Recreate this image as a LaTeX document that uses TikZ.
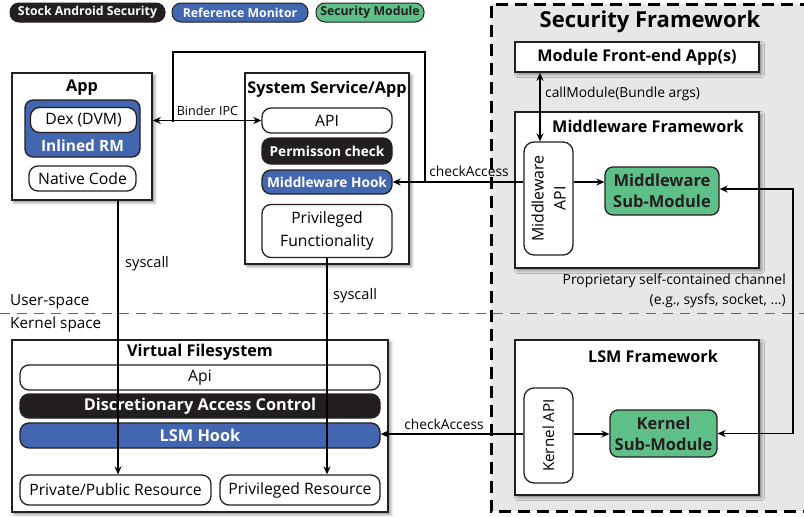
\documentclass[tikz,border=0pt]{standalone}
\usepackage{fontspec}
\setmainfont{Open Sans}
\usetikzlibrary{arrows.meta,shadows.blur,calc}
\definecolor{rmblue}{HTML}{4366B0}
\definecolor{smgreen}{HTML}{5FBF89}
\definecolor{sablack}{HTML}{231F20}
\definecolor{sfgray}{HTML}{E6E7E8}
\tikzset{
 box/.style={draw=sablack, line width=1.6pt, fill=white, inner sep=0pt, blur shadow={shadow xshift=2.5pt, shadow yshift=-2.5pt, shadow blur radius=3pt, shadow opacity=45}},
 pill/.style={draw=sablack, line width=1.3pt, fill=white, rounded corners=9pt, inner sep=0pt, font=\fontsize{15.7}{18}\selectfont},
 blk/.style={pill, fill=sablack, text=white, font=\fontsize{13.7}{16}\selectfont\bfseries},
 blu/.style={pill, fill=rmblue, text=white, font=\fontsize{13.7}{16}\selectfont\bfseries},
 grn/.style={pill, fill=smgreen, text=sablack, font=\fontsize{16.5}{21}\selectfont\bfseries, align=center, rounded corners=8pt},
 ttl/.style={font=\fontsize{16.2}{19}\selectfont\bfseries, inner sep=0pt},
 lbl/.style={font=\fontsize{13.8}{17}\selectfont, inner sep=0pt},
 leg/.style={draw=sablack, line width=1pt, rounded corners=9pt, inner sep=0pt, minimum height=19pt, font=\fontsize{12.3}{14}\selectfont\bfseries},
 arr/.style={line width=1.3pt, -{Stealth[length=8pt,width=7pt]}},
 darr/.style={line width=1.3pt, {Stealth[length=8pt,width=7pt]}-{Stealth[length=8pt,width=7pt]}},
 ln/.style={line width=1.3pt},
}
\begin{document}
\begin{tikzpicture}[x=1pt,y=-1pt]
\useasboundingbox (0,0) rectangle (804,517);
% security framework background
\fill[sfgray] (491,4) rectangle (812,511);
\draw[line width=3pt, dash pattern=on 12pt off 7pt] (812,4) -- (491,4) -- (491,511) -- (812,511);
\node[font=\fontsize{22}{26}\selectfont\bfseries, inner sep=0pt] (sftitle) at (650,22) {Security Framework};

% legend
\node[leg, fill=sablack, text=white, minimum width=155pt] (leg1) at (87.5,12.5) {Stock Android Security};
\node[leg, fill=rmblue, text=white, minimum width=136pt] (leg2) at (240,12.5) {Reference Monitor};
\node[leg, fill=smgreen, text=sablack, minimum width=108pt] (leg3) at (370,12.5) {Security Module};

% user/kernel separator
\draw[gray!80!black, line width=1pt, dash pattern=on 10pt off 7pt] (0,313) -- (804,313);
\node[lbl, anchor=west, font=\fontsize{15.3}{18}\selectfont] (us) at (10,302) {User-space};
\node[lbl, anchor=west, font=\fontsize{15.3}{18}\selectfont] (ks) at (10,325) {Kernel space};

% App
\node[box, minimum width=140pt, minimum height=127pt] (app) at (82,136.5) {};
\node[ttl] (apptitle) at (82,88) {App};
\node[pill, fill=rmblue, rounded corners=8pt, minimum width=115pt, minimum height=57pt] (irm) at (82.5,128.5) {};
\node[pill, minimum width=106pt, minimum height=25pt] (dex) at (83.5,120) {Dex (DVM)};
\node[ttl, text=white, font=\fontsize{15.5}{18}\selectfont\bfseries] (irmtext) at (82.5,146) {Inlined RM};
\node[pill, minimum width=107pt, minimum height=25pt] (native) at (82.5,178.5) {Native Code};

% System service
\node[box, minimum width=164pt, minimum height=191pt] (sys) at (327,168.5) {};
\node[ttl] (systitle) at (327,89) {System Service/App};
\node[pill, minimum width=130pt, minimum height=25pt] (api) at (327,120.5) {API};
\node[blk, minimum width=130pt, minimum height=26pt] (perm) at (327,151) {Permisson check};
\node[blu, minimum width=130pt, minimum height=24pt] (hook) at (327,182) {Middleware Hook};
\node[pill, minimum width=130pt, minimum height=53pt, align=center, font=\fontsize{15.7}{22.5}\selectfont] (pf) at (327,231) {Privileged\\Functionality};

% VFS
\node[box, minimum width=376pt, minimum height=172pt] (vfs) at (200,426) {};
\node[ttl] (vfstitle) at (200,352) {Virtual Filesystem};
\node[pill, minimum width=360pt, minimum height=25pt] (vapi) at (200,377.5) {Api};
\node[blk, minimum width=360pt, minimum height=24pt, font=\fontsize{16.3}{19}\selectfont\bfseries] (dac) at (200,406) {Discretionary Access Control};
\node[blu, minimum width=360pt, minimum height=25pt, font=\fontsize{16.3}{19}\selectfont\bfseries] (lsmhook) at (200,435.5) {LSM Hook};
\node[pill, minimum width=191pt, minimum height=30pt] (ppr) at (115.5,490) {Private/Public Resource};
\node[pill, minimum width=160pt, minimum height=30pt] (pr) at (300,490) {Privileged Resource};

% Module front-end
\node[box, minimum width=244pt, minimum height=30pt, font=\fontsize{16.2}{19}\selectfont\bfseries] (mfe) at (637,57) {Module Front-end App(s)};

% Middleware framework
\node[box, minimum width=244pt, minimum height=156pt] (mwf) at (637,190) {};
\node[ttl] (mwftitle) at (648,126) {Middleware Framework};
\node[pill, rotate=90, minimum width=113pt, minimum height=49pt, align=center, font=\fontsize{15.9}{22}\selectfont, rounded corners=10pt] (mwapi) at (548.5,198.5) {Middleware\\API};
\node[grn, minimum width=114pt, minimum height=48pt] (mwsub) at (662,191) {Middleware\\Sub-Module};

% LSM framework
\node[box, minimum width=244pt, minimum height=155pt] (lsmf) at (637,417.5) {};
\node[ttl] (lsmftitle) at (653,356) {LSM Framework};
\node[pill, rotate=90, minimum width=95pt, minimum height=49pt, font=\fontsize{15.2}{19}\selectfont, rounded corners=10pt] (kapi) at (548.5,435.5) {Kernel API};
\node[grn, minimum width=107pt, minimum height=47pt] (ksub) at (663.5,433.5) {Kernel\\Sub-Module};

% coordinates
\coordinate (bj) at (173,122);
\coordinate (cj) at (425,182);
\coordinate (sc1) at (118,200);
\coordinate (chr) at (793,189);

% Binder IPC
\draw[darr] (app.east |- api.west) -- (api.west);
\node[lbl, anchor=south, font=\fontsize{12.6}{15}\selectfont] (binder) at (207.5,116) {Binder IPC};
\draw[ln] (bj) -- (173,52) -| (cj);

% checkAccess (middleware)
\draw[arr] (mwapi.north |- hook.east) -- (hook.east);
\node[lbl, anchor=south] (chk1) at (469,177) {checkAccess};
\draw[arr] (mwapi.south |- hook.east) -- (mwsub.west |- hook.east);

% callModule
\draw[darr] (mfe.south -| 540,0) -- (mwapi.east -| 540,0);
\node[lbl, anchor=west] (callm) at (545,94) {callModule(Bundle args)};

% channel
\draw[darr] (mwsub.east |- chr) -- (chr) -- (chr |- ksub.east) -- (ksub.east);
\node[lbl, anchor=east, align=right, font=\fontsize{13.9}{20}\selectfont] (chan) at (786,291) {Proprietary self-contained channel\\(e.g., sysfs, socket, ...)};

% LSM checkAccess
\draw[arr] (kapi.north |- 0,434) -- (lsmhook.east |- 0,434);
\node[lbl, anchor=south] (chk2) at (444,430) {checkAccess};
\draw[arr] (kapi.south |- 0,434) -- (ksub.west |- 0,434);

% syscalls
\draw[arr] (sc1) -- (sc1 |- ppr.north);
\node[lbl, anchor=west, font=\fontsize{14.6}{17}\selectfont] (sys1l) at (125,264) {syscall};
\draw[arr] (pf.south) -- (pf.south |- pr.north);
\node[lbl, anchor=west, font=\fontsize{14.6}{17}\selectfont] (sys2l) at (333,296) {syscall};
\end{tikzpicture}
\end{document}
